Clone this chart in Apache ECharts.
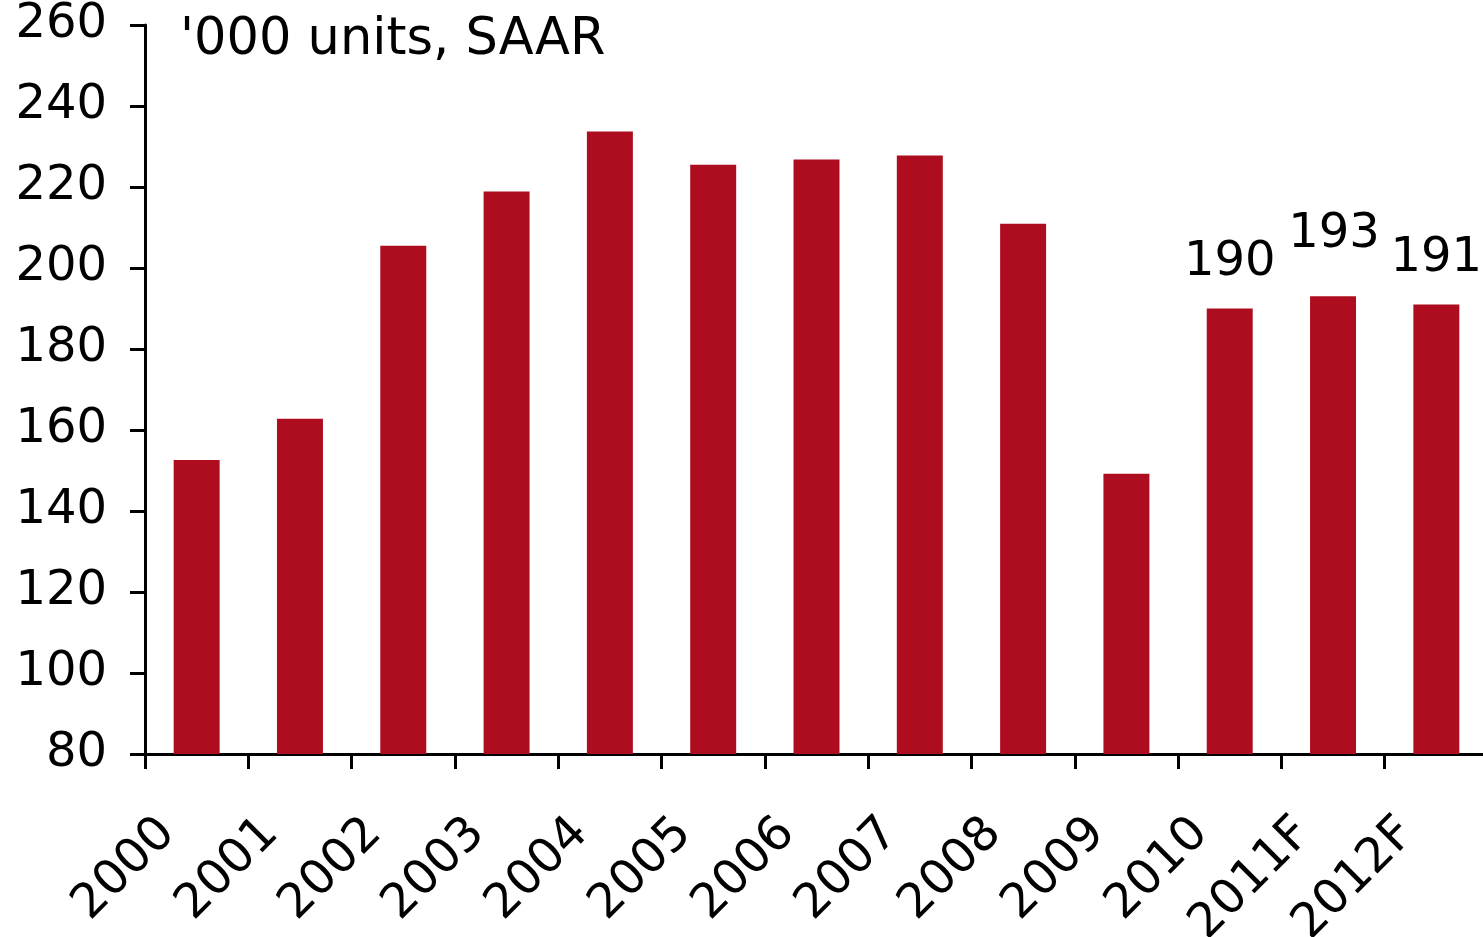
<!DOCTYPE html>
<html>
<head>
<meta charset="utf-8">
<script src="https://cdn.jsdelivr.net/npm/echarts@6/dist/echarts.min.js"></script>
<style>
html,body{margin:0;padding:0;background:#fff;overflow:hidden;}
#chart{width:1483px;height:937px;}
</style>
</head>
<body>
<div id="chart"></div>
<script>
const categories = ['2000','2001','2002','2003','2004','2005','2006','2007','2008','2009','2010','2011F','2012F'];
const values = [152.6, 162.8, 205.5, 218.9, 233.7, 225.5, 226.8, 227.8, 210.9, 149.2, 190, 193, 191];
const labelledCategories = ['2010','2011F','2012F'];
const yTicks = { min: 80, max: 260, interval: 20 };
const unitText = "'000 units, SAAR";

const FONT = 'DejaVu Sans';
const seriesData = values.map((v, i) => {
  const show = labelledCategories.includes(categories[i]);
  return {
    value: v,
    label: show ? {
      show: true,
      position: 'top',
      distance: 22,
      offset: categories[i] === '2011F' ? [1, -16] : [0, 0],
      formatter: p => Math.round(p.value)
    } : { show: false }
  };
});

const chart = echarts.init(document.getElementById('chart'));
chart.setOption({
  animation: false,
  backgroundColor: '#ffffff',
  title: {
    text: unitText,
    left: 180,
    top: 15,
    padding: 0,
    textStyle: { fontFamily: FONT, fontSize: 51, fontWeight: 'normal', color: '#000' }
  },
  grid: { left: 145, top: 25, width: 1343, height: 729, containLabel: false, outerBoundsMode: 'none' },
  xAxis: {
    type: 'category',
    data: categories,
    axisLine: { lineStyle: { color: '#000', width: 3 } },
    axisTick: { show: true, length: 15, inside: false, alignWithLabel: false, lineStyle: { color: '#000', width: 3 } },
    axisLabel: {
      rotate: 45,
      margin: 43,
      padding: [0, 41, 0, 0],
      fontFamily: FONT,
      fontSize: 48,
      color: '#000',
      interval: 0,
      hideOverlap: false
    },
    splitLine: { show: false }
  },
  yAxis: {
    type: 'value',
    min: yTicks.min,
    max: yTicks.max,
    interval: yTicks.interval,
    axisLine: { show: true, lineStyle: { color: '#000', width: 3 } },
    axisTick: { show: true, length: 15, lineStyle: { color: '#000', width: 3 } },
    axisLabel: { margin: 38, fontFamily: FONT, fontSize: 48, color: '#000' },
    splitLine: { show: false }
  },
  series: [{
    type: 'bar',
    data: seriesData,
    barWidth: '44.5%',
    itemStyle: { color: '#AE0D1F' },
    label: { fontFamily: FONT, fontSize: 48, color: '#000' }
  }]
});
</script>
</body>
</html>
